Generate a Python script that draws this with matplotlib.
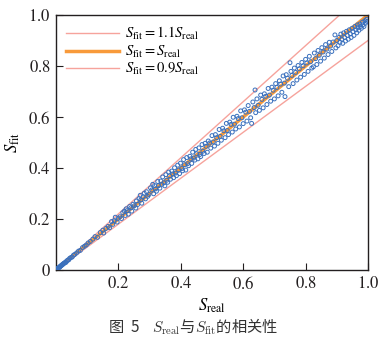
import matplotlib
matplotlib.use("Agg")
import matplotlib.pyplot as plt
import numpy as np

plt.rcParams["mathtext.fontset"] = "stix"
plt.rcParams["font.family"] = ["serif"]
plt.rcParams["font.serif"] = ["Liberation Serif", "DejaVu Serif"]

# Measured vs. fitted values
s_real = [
    0.003, 0.005, 0.007, 0.008, 0.010, 0.012, 0.013, 0.015, 0.017, 0.019, 0.021, 0.023,
    0.025, 0.027, 0.030, 0.032, 0.035, 0.038, 0.041, 0.044, 0.048, 0.052, 0.056, 0.060,
    0.066, 0.072, 0.078, 0.085, 0.091, 0.097, 0.103, 0.110, 0.118,
    0.125, 0.133, 0.142, 0.150, 0.153, 0.160, 0.167, 0.172, 0.178, 0.182, 0.187, 0.190,
    0.196, 0.199, 0.205, 0.210, 0.214, 0.219, 0.222, 0.225, 0.228, 0.232, 0.236, 0.240,
    0.243, 0.247, 0.251, 0.256, 0.258, 0.262, 0.266, 0.270, 0.272, 0.275, 0.279, 0.283,
    0.287, 0.290, 0.294, 0.298,
    0.303, 0.307, 0.310, 0.313, 0.316, 0.319, 0.322, 0.326, 0.329, 0.333, 0.336, 0.339,
    0.342, 0.346, 0.349, 0.352, 0.355, 0.358, 0.361, 0.364, 0.367, 0.371, 0.374, 0.377,
    0.380, 0.383, 0.386, 0.390, 0.393, 0.396, 0.399, 0.403, 0.406, 0.409, 0.412, 0.416,
    0.419, 0.422, 0.425, 0.429, 0.432, 0.435, 0.438, 0.441, 0.445, 0.448, 0.451, 0.455,
    0.458, 0.461, 0.464, 0.468, 0.471, 0.475, 0.478, 0.481, 0.485, 0.488, 0.492, 0.496,
    0.500, 0.504, 0.508, 0.511, 0.515, 0.519, 0.523, 0.526, 0.530, 0.534, 0.538, 0.542,
    0.546, 0.549, 0.553, 0.557, 0.561, 0.565, 0.568, 0.572, 0.576, 0.580, 0.584, 0.588,
    0.592, 0.596, 0.600, 0.604, 0.608, 0.612, 0.616, 0.620, 0.624, 0.627, 0.631, 0.635,
    0.638, 0.640, 0.644, 0.648, 0.652, 0.656, 0.660, 0.664, 0.668, 0.672, 0.676, 0.680,
    0.684, 0.688, 0.692, 0.696,
    0.700, 0.704, 0.708, 0.712, 0.716, 0.720, 0.724, 0.728, 0.732, 0.734, 0.738, 0.742,
    0.746, 0.750, 0.753, 0.756, 0.760, 0.764, 0.768, 0.772, 0.776, 0.780, 0.784, 0.788,
    0.792, 0.796, 0.800, 0.804, 0.808, 0.812, 0.816, 0.820, 0.825, 0.828, 0.832, 0.836,
    0.840, 0.844, 0.848, 0.852, 0.856, 0.860, 0.864, 0.868, 0.872, 0.876, 0.880, 0.884,
    0.888, 0.894, 0.897,
    0.900, 0.904, 0.907, 0.910, 0.913, 0.916, 0.919, 0.922, 0.925, 0.928, 0.931, 0.934,
    0.937, 0.940, 0.943, 0.946, 0.949, 0.952, 0.955, 0.958, 0.961, 0.964, 0.966, 0.968,
    0.971, 0.974, 0.976, 0.979, 0.982, 0.984, 0.987, 0.990, 0.992, 0.995, 0.997,
]
s_fit = [
    0.003, 0.006, 0.007, 0.009, 0.010, 0.011, 0.014, 0.016, 0.017, 0.020, 0.021, 0.024,
    0.026, 0.027, 0.031, 0.030, 0.036, 0.039, 0.040, 0.046, 0.049, 0.051, 0.058, 0.061,
    0.067, 0.074, 0.077, 0.088, 0.093, 0.098, 0.106, 0.112, 0.121,
    0.131, 0.128, 0.147, 0.156, 0.145, 0.163, 0.171, 0.166, 0.190, 0.179, 0.193, 0.207,
    0.188, 0.203, 0.209, 0.202, 0.225, 0.231, 0.214, 0.240, 0.233, 0.219, 0.249, 0.244,
    0.231, 0.258, 0.252, 0.243, 0.271, 0.257, 0.280, 0.293, 0.275, 0.262, 0.287, 0.301,
    0.279, 0.307, 0.289, 0.296,
    0.322, 0.314, 0.336, 0.299, 0.331, 0.318, 0.309, 0.347, 0.331, 0.321, 0.349, 0.336,
    0.365, 0.342, 0.330, 0.374, 0.352, 0.344, 0.384, 0.369, 0.356, 0.388, 0.377, 0.362,
    0.401, 0.380, 0.370, 0.411, 0.392, 0.378, 0.419, 0.398, 0.389, 0.433, 0.413, 0.392,
    0.441, 0.417, 0.409, 0.446, 0.436, 0.418, 0.462, 0.439, 0.431, 0.473, 0.456, 0.436,
    0.479, 0.453, 0.445, 0.492, 0.466, 0.457, 0.497, 0.485, 0.462, 0.506, 0.498, 0.478,
    0.527, 0.502, 0.486, 0.531, 0.519, 0.497, 0.551, 0.524, 0.509, 0.556, 0.546, 0.519,
    0.575, 0.547, 0.531, 0.580, 0.571, 0.541, 0.599, 0.572, 0.553, 0.603, 0.594, 0.561,
    0.624, 0.597, 0.574, 0.628, 0.619, 0.584, 0.645, 0.622, 0.597, 0.575, 0.659, 0.637,
    0.706, 0.617, 0.671, 0.646, 0.626, 0.686, 0.669, 0.636, 0.691, 0.681, 0.649, 0.712,
    0.686, 0.662, 0.717, 0.705,
    0.671, 0.731, 0.716, 0.683, 0.742, 0.729, 0.697, 0.761, 0.733, 0.680, 0.766, 0.752,
    0.719, 0.813, 0.779, 0.763, 0.731, 0.792, 0.775, 0.745, 0.802, 0.789, 0.756, 0.814,
    0.801, 0.767, 0.826, 0.812, 0.779, 0.838, 0.817, 0.792, 0.797, 0.851, 0.829, 0.806,
    0.861, 0.842, 0.819, 0.872, 0.855, 0.831, 0.884, 0.866, 0.845, 0.893, 0.878, 0.857,
    0.894, 0.922, 0.871,
    0.900, 0.880, 0.912, 0.893, 0.925, 0.905, 0.889, 0.930, 0.912, 0.898, 0.936, 0.920,
    0.905, 0.942, 0.926, 0.912, 0.948, 0.935, 0.920, 0.955, 0.942, 0.930, 0.961, 0.950,
    0.940, 0.965, 0.955, 0.948, 0.972, 0.962, 0.955, 0.978, 0.968, 0.983, 0.975,
]

ref_ratios = [1.1, 1.0, 0.9]
ref_labels = [r"$S_{\rm fit}=1.1S_{\rm real}$",
              r"$S_{\rm fit}=S_{\rm real}$",
              r"$S_{\rm fit}=0.9S_{\rm real}$"]
xticks = [0.2, 0.4, 0.6, 0.8, 1.0]
yticks = [0, 0.2, 0.4, 0.6, 0.8, 1.0]
xtick_labels = ["0.2", "0.4", "0.6", "0.8", "1.0"]
ytick_labels = ["0", "0.2", "0.4", "0.6", "0.8", "1.0"]

fig = plt.figure(figsize=(3.83, 3.42), dpi=100)
ax = fig.add_axes([0.1462, 0.2105, 0.8146, 0.7456])

line_colors = ["#f6a39c", "#f89a3a", "#f6a39c"]
line_widths = [1.0, 2.5, 1.0]
xs = np.array([0.0, 1.0])
for r, lab, c, lw in zip(ref_ratios, ref_labels, line_colors, line_widths):
    ax.plot(xs, r * xs, color=c, lw=lw, label=lab, zorder=2)

ax.scatter(s_real, s_fit, s=8, facecolors="none", edgecolors="#3a70bd",
           linewidths=0.7, zorder=3)

ax.set_xlim(0, 1)
ax.set_ylim(0, 1)
ax.set_xticks(xticks)
ax.set_xticklabels([f"${t}$" for t in xtick_labels])
ax.set_yticks(yticks)
ax.set_yticklabels([f"${t}$" for t in ytick_labels])
ax.tick_params(direction="in", length=5, width=0.8, labelsize=12,
               colors="#231f20", pad=4)
for sp in ax.spines.values():
    sp.set_color("#231f20")
    sp.set_linewidth(1.0)

ax.set_xlabel(r"$S_{\rm real}$", fontsize=12, labelpad=3)
ax.set_ylabel(r"$S_{\rm fit}$", fontsize=12, labelpad=4)

ax.legend(loc="upper left", frameon=False, fontsize=10.5, handlelength=3.6,
          labelspacing=0.1, borderaxespad=0.3, handletextpad=0.4,
          bbox_to_anchor=(0.0, 1.0))

fig.text(0.505, 0.044, "图  5    $S_{\\rm real}$与$S_{\\rm fit}$的相关性",
         ha="center", va="center", fontsize=11, color="#333333",
         family=["Noto Sans CJK SC", "DejaVu Sans"], math_fontfamily="cm")

fig.savefig("out.png", dpi=100)
